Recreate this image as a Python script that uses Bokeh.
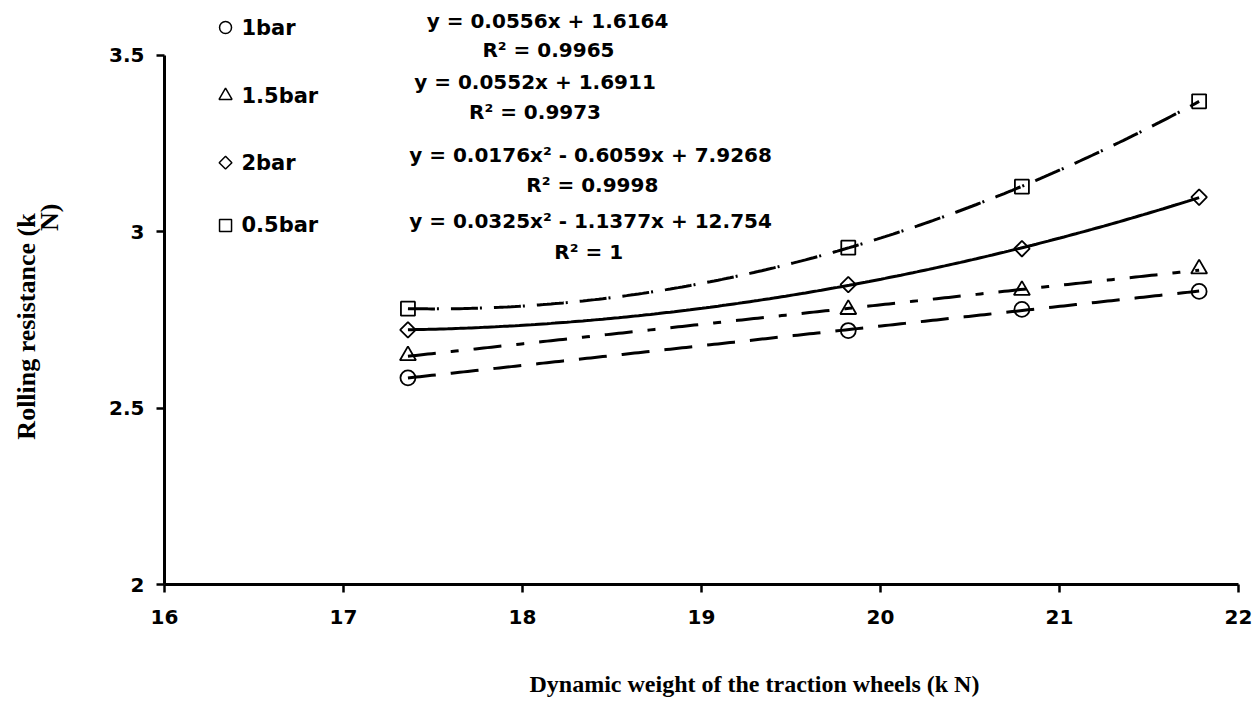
import numpy as np
from bokeh.plotting import figure
from bokeh.models import Range1d, Label, FixedTicker
from bokeh.core.properties import value
from bokeh.embed import file_html
from bokeh.resources import INLINE

# ---- data ----
weight = [17.36, 19.82, 20.79, 21.78]          # Dynamic weight of the traction wheels (kN)
series_names = ["1bar", "1.5bar", "2bar", "0.5bar"]
res_1bar = [2.586, 2.720, 2.780, 2.831]
res_15bar = [2.649, 2.780, 2.834, 2.895]
res_2bar = [2.722, 2.850, 2.952, 3.098]
res_05bar = [2.782, 2.955, 3.128, 3.370]
fit_degree = [1, 1, 2, 2]
equations = ["y = 0.0556x + 1.6164", "y = 0.0552x + 1.6911",
             "y = 0.0176x\u00b2 - 0.6059x + 7.9268", "y = 0.0325x\u00b2 - 1.1377x + 12.754"]
r2_texts = ["R\u00b2 = 0.9965", "R\u00b2 = 0.9973", "R\u00b2 = 0.9998", "R\u00b2 = 1"]
x_ticks = [16, 17, 18, 19, 20, 21, 22]
y_ticks = [2, 2.5, 3, 3.5]
y_tick_labels = ["2", "2.5", "3", "3.5"]
x_title = "Dynamic weight of the traction wheels (k N)"
y_title = ["Rolling resistance (k", "N)"]

series = [res_1bar, res_15bar, res_2bar, res_05bar]

# ---- styles ----
markers = ["circle", "triangle", "square", "square"]
marker_angles = [0, 0, np.pi / 4, 0]
marker_sizes = [15, 16, 11, 14]
legend_sizes = [12, 13, 9, 12]
dashes = ["28 15", "28 15 8 15", "solid", "27 2 2 12"]

W, H = 1253, 702
PX_X, PX_Y = 179.0, 352.7          # pixels per data unit
LEFT, BOTTOM = 164, 118            # pixel position of the axes origin (16, 2)
x0 = x_ticks[0] - LEFT / PX_X
y0 = y_ticks[0] - BOTTOM / PX_Y

p = figure(width=W, height=H, output_backend="svg", toolbar_location=None,
           x_range=Range1d(x0, x0 + W / PX_X), y_range=Range1d(y0, y0 + H / PX_Y),
           min_border=0, title_location=None)
p.outline_line_color = None
p.xgrid.visible = False
p.ygrid.visible = False
p.background_fill_color = "white"
p.border_fill_color = "white"

for ax in (p.xaxis[0], p.yaxis[0]):
    ax.axis_line_width = 3
    ax.axis_line_color = "black"
    ax.major_tick_line_width = 2.5
    ax.major_tick_line_color = "black"
    ax.major_tick_out = 8
    ax.major_tick_in = 0
    ax.minor_tick_line_color = None
    ax.major_label_text_font = "DejaVu Sans"
    ax.major_label_text_font_style = "bold"
    ax.major_label_text_font_size = "20px"
    ax.major_label_text_color = "black"

p.xaxis.ticker = FixedTicker(ticks=x_ticks)
p.xaxis.major_label_standoff = 17
p.xaxis.fixed_location = y_ticks[0]
p.xaxis.bounds = (x_ticks[0], x_ticks[-1])
p.yaxis.ticker = FixedTicker(ticks=y_ticks)
p.yaxis.major_label_overrides = {float(t): s for t, s in zip(y_ticks, y_tick_labels)}
p.yaxis.major_label_standoff = 12
p.yaxis.fixed_location = x_ticks[0]
p.yaxis.bounds = (y_ticks[0], y_ticks[-1])

for i, ys in enumerate(series):
    coef = np.polyfit(weight, ys, fit_degree[i])
    xs = np.linspace(min(weight), max(weight), 200)
    p.line(xs, np.polyval(coef, xs), line_color="black", line_width=3, line_dash=dashes[i])
    p.scatter(weight, ys, marker=markers[i], size=marker_sizes[i], angle=marker_angles[i],
              line_color="black", line_width=1.8, fill_color=None)

# legend (top-left, marker + bold label)
leg_mx, leg_tx = 16.341, 16.43
leg_y = [3.579, 3.386, 3.196, 3.018]
for i, name in enumerate(series_names):
    p.scatter([leg_mx], [leg_y[i]], marker=markers[i], size=legend_sizes[i], angle=marker_angles[i],
              line_color="black", line_width=1.5, fill_color=None)
    p.text([leg_tx], [leg_y[i]], text=[name], text_align="left", text_baseline="middle",
           text_font=value("DejaVu Sans"), text_font_style="bold", text_font_size="21px",
           text_color="black")

# trend-line equations
eq_x = [18.14, 18.07, 18.38, 18.38]
eq_y = [3.598, 3.425, 3.218, 3.031]
r2_x = [18.145, 18.07, 18.39, 18.37]
r2_y = [3.516, 3.340, 3.133, 2.943]
for i in range(4):
    p.add_layout(Label(x=eq_x[i], y=eq_y[i], text=equations[i], text_align="center",
                       text_baseline="middle", text_font="DejaVu Sans", text_font_style="bold",
                       text_font_size="20px", text_color="black"))
    p.add_layout(Label(x=r2_x[i], y=r2_y[i], text=r2_texts[i], text_align="center",
                       text_baseline="middle", text_font="DejaVu Sans", text_font_style="bold",
                       text_font_size="20px", text_color="black"))

# axis titles
p.add_layout(Label(x=19.296, y=1.7165, text=x_title, text_align="center", text_baseline="middle",
                   text_font="Liberation Serif", text_font_style="bold", text_font_size="24px",
                   text_color="black"))
p.add_layout(Label(x=15.229, y=2.7315, text=y_title[0], text_align="center", text_baseline="middle",
                   angle=np.pi / 2, text_font="Liberation Serif", text_font_style="bold",
                   text_font_size="26px", text_color="black"))
p.add_layout(Label(x=15.36, y=3.080, text=y_title[1], text_align="right", text_baseline="middle",
                   angle=np.pi / 2, text_font="Liberation Serif", text_font_style="bold",
                   text_font_size="26px", text_color="black"))

open("out.html", "w").write(file_html(p, INLINE))
